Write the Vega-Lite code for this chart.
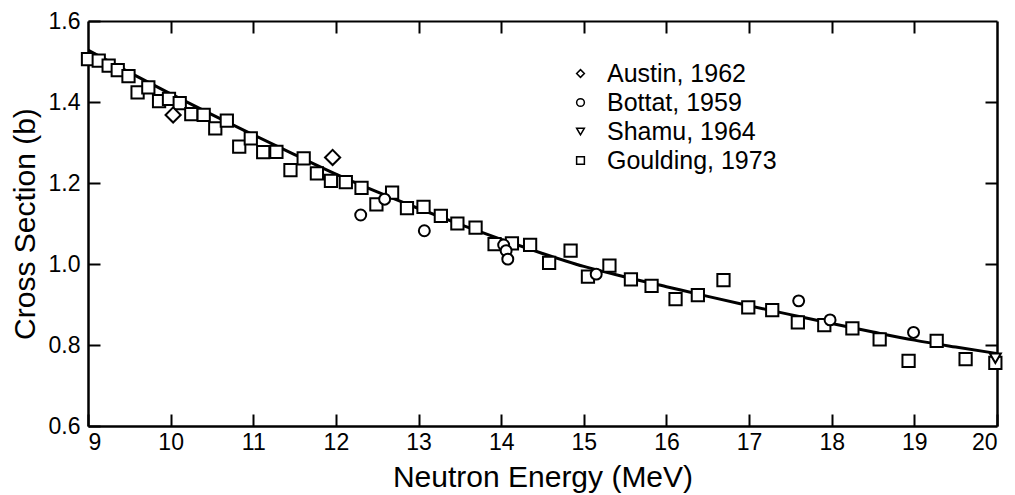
{
  "$schema": "https://vega.github.io/schema/vega-lite/v6.json",
  "width": 909,
  "height": 405,
  "autosize": {"type": "none"},
  "padding": {"left": 88, "top": 21, "right": 18, "bottom": 69},
  "background": "white",
  "config": {
    "view": {"stroke": null},
    "font": "Liberation Sans",
    "axis": {
      "grid": false,
      "domainColor": "black",
      "domainWidth": 2.5,
      "tickColor": "black",
      "tickWidth": 2,
      "tickSize": -12,
      "labelColor": "black",
      "labelFont": "Liberation Sans",
      "labelFontSize": 23,
      "titleFont": "Liberation Sans",
      "titleFontSize": 30,
      "titleFontWeight": "normal",
      "titleColor": "black"
    }
  },
  "datasets": {
    "pts": [
      {"series": "Goulding, 1973", "energy": 9.00, "cs": 1.506},
      {"series": "Goulding, 1973", "energy": 9.13, "cs": 1.502},
      {"series": "Goulding, 1973", "energy": 9.25, "cs": 1.490},
      {"series": "Goulding, 1973", "energy": 9.36, "cs": 1.479},
      {"series": "Goulding, 1973", "energy": 9.49, "cs": 1.464},
      {"series": "Goulding, 1973", "energy": 9.60, "cs": 1.424},
      {"series": "Goulding, 1973", "energy": 9.73, "cs": 1.436},
      {"series": "Goulding, 1973", "energy": 9.86, "cs": 1.402},
      {"series": "Goulding, 1973", "energy": 9.98, "cs": 1.408},
      {"series": "Goulding, 1973", "energy": 10.11, "cs": 1.397},
      {"series": "Goulding, 1973", "energy": 10.25, "cs": 1.370},
      {"series": "Goulding, 1973", "energy": 10.40, "cs": 1.368},
      {"series": "Goulding, 1973", "energy": 10.54, "cs": 1.335},
      {"series": "Goulding, 1973", "energy": 10.68, "cs": 1.354},
      {"series": "Goulding, 1973", "energy": 10.83, "cs": 1.290},
      {"series": "Goulding, 1973", "energy": 10.97, "cs": 1.310},
      {"series": "Goulding, 1973", "energy": 11.12, "cs": 1.276},
      {"series": "Goulding, 1973", "energy": 11.28, "cs": 1.277},
      {"series": "Goulding, 1973", "energy": 11.45, "cs": 1.232},
      {"series": "Goulding, 1973", "energy": 11.61, "cs": 1.261},
      {"series": "Goulding, 1973", "energy": 11.77, "cs": 1.224},
      {"series": "Goulding, 1973", "energy": 11.94, "cs": 1.205},
      {"series": "Goulding, 1973", "energy": 12.12, "cs": 1.202},
      {"series": "Goulding, 1973", "energy": 12.31, "cs": 1.188},
      {"series": "Goulding, 1973", "energy": 12.49, "cs": 1.147},
      {"series": "Goulding, 1973", "energy": 12.68, "cs": 1.176},
      {"series": "Goulding, 1973", "energy": 12.86, "cs": 1.138},
      {"series": "Goulding, 1973", "energy": 13.06, "cs": 1.141},
      {"series": "Goulding, 1973", "energy": 13.27, "cs": 1.119},
      {"series": "Goulding, 1973", "energy": 13.47, "cs": 1.100},
      {"series": "Goulding, 1973", "energy": 13.69, "cs": 1.090},
      {"series": "Goulding, 1973", "energy": 13.92, "cs": 1.049},
      {"series": "Goulding, 1973", "energy": 14.13, "cs": 1.051},
      {"series": "Goulding, 1973", "energy": 14.35, "cs": 1.047},
      {"series": "Goulding, 1973", "energy": 14.58, "cs": 1.003},
      {"series": "Goulding, 1973", "energy": 14.84, "cs": 1.033},
      {"series": "Goulding, 1973", "energy": 15.05, "cs": 0.969},
      {"series": "Goulding, 1973", "energy": 15.31, "cs": 0.996},
      {"series": "Goulding, 1973", "energy": 15.57, "cs": 0.962},
      {"series": "Goulding, 1973", "energy": 15.82, "cs": 0.946},
      {"series": "Goulding, 1973", "energy": 16.11, "cs": 0.913},
      {"series": "Goulding, 1973", "energy": 16.38, "cs": 0.923},
      {"series": "Goulding, 1973", "energy": 16.69, "cs": 0.960},
      {"series": "Goulding, 1973", "energy": 16.99, "cs": 0.893},
      {"series": "Goulding, 1973", "energy": 17.28, "cs": 0.886},
      {"series": "Goulding, 1973", "energy": 17.59, "cs": 0.856},
      {"series": "Goulding, 1973", "energy": 17.91, "cs": 0.849},
      {"series": "Goulding, 1973", "energy": 18.25, "cs": 0.841},
      {"series": "Goulding, 1973", "energy": 18.58, "cs": 0.814},
      {"series": "Goulding, 1973", "energy": 18.93, "cs": 0.761},
      {"series": "Goulding, 1973", "energy": 19.27, "cs": 0.810},
      {"series": "Goulding, 1973", "energy": 19.62, "cs": 0.765},
      {"series": "Goulding, 1973", "energy": 19.98, "cs": 0.756},
      {"series": "Austin, 1962", "energy": 10.03, "cs": 1.368},
      {"series": "Austin, 1962", "energy": 11.96, "cs": 1.263},
      {"series": "Bottat, 1959", "energy": 12.30, "cs": 1.121},
      {"series": "Bottat, 1959", "energy": 12.59, "cs": 1.160},
      {"series": "Bottat, 1959", "energy": 13.07, "cs": 1.082},
      {"series": "Bottat, 1959", "energy": 14.03, "cs": 1.047},
      {"series": "Bottat, 1959", "energy": 14.06, "cs": 1.033},
      {"series": "Bottat, 1959", "energy": 14.08, "cs": 1.012},
      {"series": "Bottat, 1959", "energy": 15.15, "cs": 0.975},
      {"series": "Bottat, 1959", "energy": 17.60, "cs": 0.909},
      {"series": "Bottat, 1959", "energy": 17.98, "cs": 0.862},
      {"series": "Bottat, 1959", "energy": 18.99, "cs": 0.831},
      {"series": "Shamu, 1964", "energy": 19.98, "cs": 0.767}
    ],
    "fit": [
      {"energy": 9.0, "cs": 1.528},
      {"energy": 9.5, "cs": 1.473},
      {"energy": 10.0, "cs": 1.420},
      {"energy": 10.5, "cs": 1.369},
      {"energy": 11.0, "cs": 1.319},
      {"energy": 11.5, "cs": 1.270},
      {"energy": 12.0, "cs": 1.222},
      {"energy": 12.5, "cs": 1.178},
      {"energy": 13.0, "cs": 1.137},
      {"energy": 13.5, "cs": 1.098},
      {"energy": 14.0, "cs": 1.061},
      {"energy": 14.5, "cs": 1.026},
      {"energy": 15.0, "cs": 0.994},
      {"energy": 15.5, "cs": 0.968},
      {"energy": 16.0, "cs": 0.944},
      {"energy": 16.5, "cs": 0.920},
      {"energy": 17.0, "cs": 0.897},
      {"energy": 17.5, "cs": 0.875},
      {"energy": 18.0, "cs": 0.853},
      {"energy": 18.5, "cs": 0.832},
      {"energy": 19.0, "cs": 0.812},
      {"energy": 19.5, "cs": 0.795},
      {"energy": 20.0, "cs": 0.779}
    ]
  },
  "layer": [
    {
      "data": {"name": "fit"},
      "mark": {"type": "line", "color": "black", "strokeWidth": 3, "interpolate": "monotone", "clip": true},
      "encoding": {
        "x": {"field": "energy", "type": "quantitative", "scale": {"domain": [9, 20], "nice": false},
              "axis": {"orient": "top", "labels": false, "title": null, "values": [10,11,12,13,14,15,16,17,18,19], "domainWidth": 2}},
        "y": {"field": "cs", "type": "quantitative", "scale": {"domain": [0.6, 1.6], "nice": false, "zero": false},
              "axis": {"orient": "right", "labels": false, "title": null, "values": [0.8,1.0,1.2,1.4], "domainWidth": 2.5}}
      }
    },
    {
      "data": {"name": "pts"},
      "mark": {"type": "point", "filled": false, "color": "black", "fill": "white", "fillOpacity": 1, "strokeWidth": 2, "opacity": 1},
      "encoding": {
        "x": {"field": "energy", "type": "quantitative", "scale": {"domain": [9, 20], "nice": false},
              "axis": {"orient": "bottom", "title": "Neutron Energy (MeV)", "values": [9,10,11,12,13,14,15,16,17,18,19,20], "format": "d", "labelPadding": 17, "titlePadding": 8}},
        "y": {"field": "cs", "type": "quantitative", "scale": {"domain": [0.6, 1.6], "nice": false, "zero": false},
              "axis": {"orient": "left", "title": "Cross Section (b)", "values": [0.6,0.8,1.0,1.2,1.4,1.6], "format": ".1f", "labelPadding": 20, "titlePadding": 8}},
        "size": {
          "condition": [
            {"test": "datum.series === 'Austin, 1962'", "value": 230},
            {"test": "datum.series === 'Goulding, 1973'", "value": 150}
          ],
          "value": 120
        },
        "shape": {
          "field": "series", "type": "nominal",
          "scale": {"domain": ["Austin, 1962", "Bottat, 1959", "Shamu, 1964", "Goulding, 1973"], "range": ["diamond", "circle", "triangle-down", "square"]},
          "legend": {
            "orient": "none", "legendX": 480, "legendY": 40, "title": null,
            "labelFontSize": 25, "labelFont": "Liberation Sans", "labelColor": "black", "labelLimit": 400,
            "symbolSize": 60, "symbolStrokeWidth": 1.5,
            "labelOffset": 14, "rowPadding": 3, "padding": 0,
            "encode": {
              "symbols": {
                "update": {
                  "stroke": {"value": "black"},
                  "fill": {"value": "white"},
                  "strokeWidth": {"value": 1.5},
                  "opacity": {"value": 1},
                  "size": {"value": 60}
                }
              }
            }
          }
        }
      }
    }
  ],
  "resolve": {"axis": {"x": "independent", "y": "independent"}}
}
